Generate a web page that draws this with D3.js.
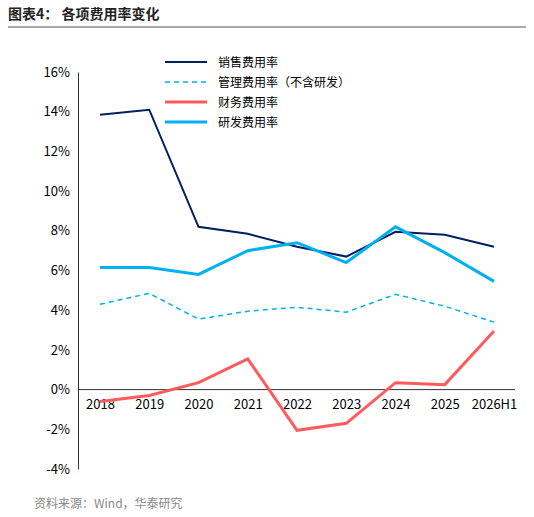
<!DOCTYPE html>
<html><head><meta charset="utf-8">
<script src="https://cdn.jsdelivr.net/npm/d3@7"></script>
<style>body{margin:0;background:#fff}text{font-family:"Noto Sans CJK SC","Noto Sans",sans-serif}</style>
</head><body>
<svg id="c" width="534" height="517"></svg>
<script>
const years = ["2018","2019","2020","2021","2022","2023","2024","2025","2026H1"];
const sales = [13.85,14.1,8.2,7.85,7.2,6.7,7.95,7.8,7.2];
const admin = [4.3,4.85,3.55,3.95,4.15,3.9,4.8,4.2,3.4];
const finance = [-0.6,-0.3,0.35,1.55,-2.05,-1.7,0.35,0.25,2.95];
const rnd = [6.15,6.15,5.8,7.0,7.4,6.4,8.2,6.9,5.45];
const yTicks = [-4,-2,0,2,4,6,8,10,12,14,16];

const series = [
  {name:"销售费用率", v:sales, color:"#002060", w:2, dash:null},
  {name:"管理费用率（不含研发）", v:admin, color:"#00B0F0", w:1.5, dash:"5,4"},
  {name:"财务费用率", v:finance, color:"#FF5B5B", w:3, dash:null},
  {name:"研发费用率", v:rnd, color:"#00B0F0", w:3, dash:null}
];

const svg = d3.select("#c");
svg.append("text").attr("x",8).attr("y",19).attr("font-size",14).attr("font-weight","bold").attr("fill","#222").text("图表4：  各项费用率变化");
svg.append("line").attr("x1",8).attr("x2",526).attr("y1",27).attr("y2",27).attr("stroke","#555").attr("stroke-width",1);

const x = d3.scalePoint().domain(years).range([100,494]);
const y = d3.scaleLinear().domain([-4,16]).range([469,72]);

const yAxis = svg.append("g").attr("transform","translate(78,0)")
  .call(d3.axisLeft(y).tickValues(yTicks).tickFormat(d=>d+"%").tickSize(0).tickPadding(8));
yAxis.select(".domain").attr("stroke","#333");
yAxis.selectAll("text").attr("font-size",13).attr("fill","#000");

const xAxis = svg.append("g").attr("transform",`translate(0,${y(0)})`)
  .call(d3.axisBottom(x).tickSize(0).tickPadding(10));
xAxis.select(".domain").attr("d","M78,0H515").attr("stroke","#333");
xAxis.selectAll("text").attr("font-size",13).attr("fill","#000");

const line = d3.line().x((d,i)=>x(years[i])).y(d=>y(d));
series.forEach(s=>{
  svg.append("path").attr("d",line(s.v)).attr("fill","none").attr("stroke",s.color)
    .attr("stroke-width",s.w).attr("stroke-dasharray",s.dash);
});

const lg = svg.append("g");
series.forEach((s,i)=>{
  const yy = 62 + i*20;
  lg.append("line").attr("x1",165).attr("x2",207).attr("y1",yy).attr("y2",yy)
    .attr("stroke",s.color).attr("stroke-width",s.w).attr("stroke-dasharray",s.dash);
  lg.append("text").attr("x",218).attr("y",yy+4.5).attr("font-size",12).attr("fill","#000").text(s.name);
});

svg.append("text").attr("x",34).attr("y",508).attr("font-size",12).attr("fill","#888").text("资料来源：Wind，华泰研究");
</script>
</body></html>
